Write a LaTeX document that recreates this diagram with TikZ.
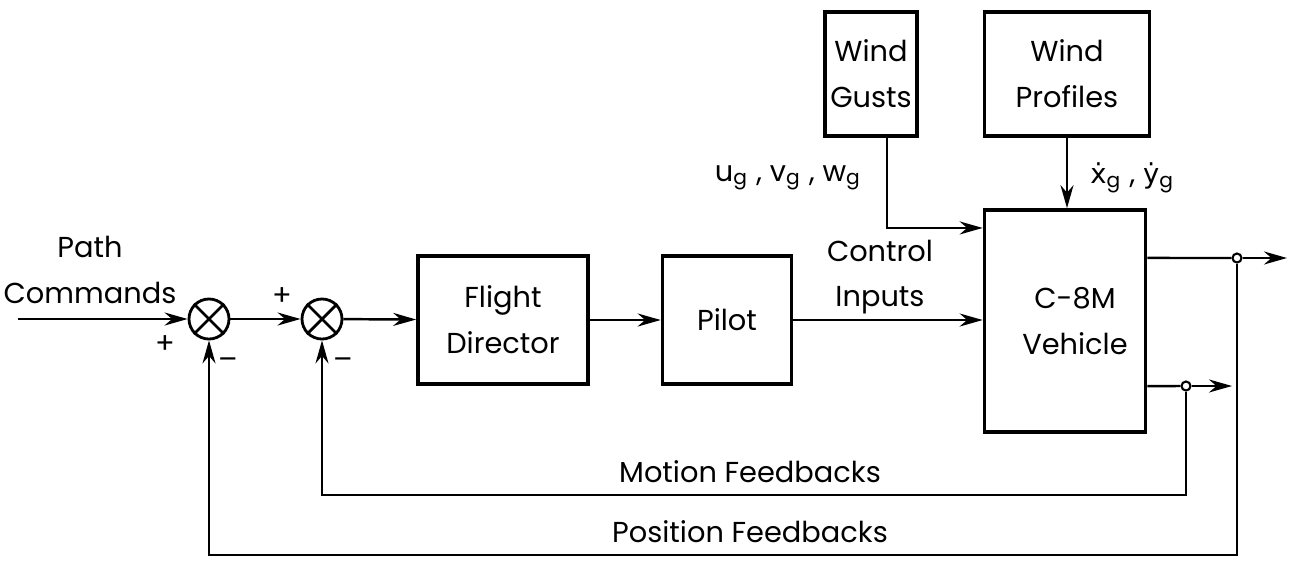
\documentclass[tikz,border=0pt]{standalone}
\usepackage{fontspec}
\setmainfont{Poppins}
\newfontfamily\ratefont[Scale=0.95]{DejaVu Sans}
\usetikzlibrary{arrows.meta}
\tikzset{
  blk/.style={draw, line width=1pt, align=center, inner sep=0pt},
  summer/.style={draw, circle, line width=0.8pt, minimum size=0.4cm, inner sep=0pt},
  tap/.style={draw, circle, fill=white, line width=0.6pt, minimum size=0.09cm, inner sep=0pt},
  sig/.style={line width=0.7pt, -{Stealth[length=2.3mm,width=1.3mm]}},
  wire/.style={line width=0.7pt}
}
\begin{document}
\begin{tikzpicture}[x=0.01cm,y=-0.01cm,font=\fontsize{8.2}{13}\selectfont]
\useasboundingbox (0,0) rectangle (1290,563);
\node[summer] (s1) at (209,319) {};
\node[summer] (s2) at (322,319) {};
\draw[line width=0.8pt] (s1.north west) -- (s1.south east) (s1.north east) -- (s1.south west);
\draw[line width=0.8pt] (s2.north west) -- (s2.south east) (s2.north east) -- (s2.south west);
\node[blk, minimum width=1.7cm, minimum height=1.28cm] (fd) at (503,320) {Flight\\Director};
\node[blk, minimum width=1.29cm, minimum height=1.28cm] (pilot) at (727,320) {Pilot};
\node[blk, minimum width=1.61cm, minimum height=2.22cm] (veh) at (1065,321) {\hspace*{0.2cm}C-8M\\\hspace*{0.2cm}Vehicle};
\node[blk, minimum width=0.92cm, minimum height=1.24cm] (gusts) at (871,74) {Wind\\Gusts};
\node[blk, minimum width=1.65cm, minimum height=1.24cm] (prof) at (1067,74) {Wind\\Profiles};
\node[tap] (t1) at (1237,258) {};
\node[tap] (t2) at (1186,386) {};
\coordinate (cmd) at (18,319);
\coordinate (y1) at (1287,258);
\coordinate (y2) at (1232,386);
\coordinate (mfb) at (750,495);
\coordinate (pfb) at (750,555);
\draw[sig] (cmd) -- (s1);
\draw[sig] (s1) -- (s2);
\draw[sig] (s2) -- (fd);
\draw[sig] (fd) -- (pilot);
\draw[sig] (pilot) -- (pilot -| veh.west);
\draw[sig] ([xshift=0.16cm]gusts.south) |- ([yshift=0.93cm]veh.west);
\draw[sig] (prof.south) -- (prof.south |- veh.north);
\draw[wire] ([yshift=0.63cm]veh.east) -- (t1);
\draw[sig] (t1) -- (y1);
\draw[wire] ([yshift=-0.65cm]veh.east) -- (t2);
\draw[sig] (t2) -- (y2);
\draw[sig] (t2) |- (mfb) -| (s2);
\draw[sig] (t1) |- (pfb) -| (s1);
\node[align=center] at (90,270) {Path\\Commands};
\node[align=center] at (880,277) {Control\\Inputs};
\node[anchor=east] at (874,178) {u\textsubscript{g} , v\textsubscript{g} , w\textsubscript{g}};
\node[anchor=west] at (1078,178) {{\ratefont ẋ}\textsubscript{g} , {\ratefont ẏ}\textsubscript{g}};
\node[above] at (mfb) {Motion Feedbacks};
\node[above] at (pfb) {Position Feedbacks};
\node at (165,345) {+};
\node at (282,297) {+};
\node at (228,364) {--};
\node at (343,364) {--};
\end{tikzpicture}
\end{document}
